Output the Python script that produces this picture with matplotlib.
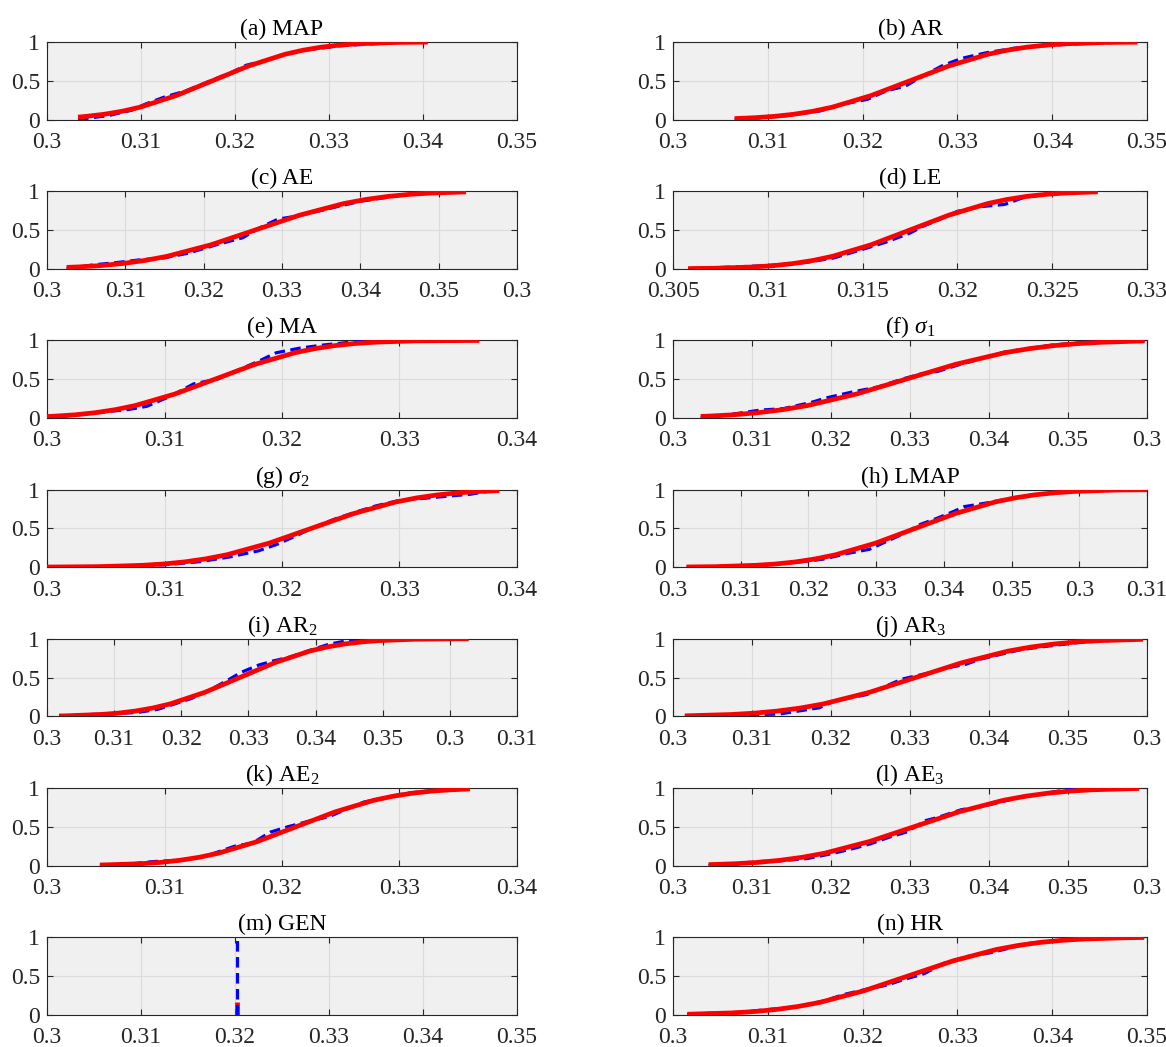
import matplotlib
matplotlib.use("Agg")
import matplotlib.pyplot as plt

plt.rcParams["font.family"] = ["Liberation Serif", "DejaVu Serif"]
plt.rcParams["mathtext.fontset"] = "custom"
plt.rcParams["mathtext.rm"] = "Liberation Serif"
plt.rcParams["mathtext.it"] = "Liberation Serif:italic"

map_emp_x = [0.3033, 0.3065, 0.309, 0.3105, 0.3125, 0.3148, 0.317, 0.3195, 0.3212, 0.3235, 0.3258, 0.3278, 0.331, 0.3365, 0.3405]
map_emp_y = [0.0, 0.05, 0.12, 0.2, 0.29, 0.37, 0.48, 0.6, 0.7, 0.77, 0.86, 0.9, 0.95, 0.99, 1.0]
map_fit_x = [0.3033, 0.30413, 0.30605, 0.30798, 0.3099, 0.31375, 0.3176, 0.32145, 0.3253, 0.32723, 0.32915, 0.33108, 0.333, 0.33685, 0.3405]
map_fit_y = [0.031, 0.040, 0.067, 0.106, 0.159, 0.309, 0.5, 0.691, 0.841, 0.894, 0.933, 0.960, 0.977, 0.994, 0.9985]

ar_emp_x = [0.3065, 0.309, 0.312, 0.3155, 0.318, 0.3205, 0.3225, 0.3245, 0.3262, 0.3285, 0.3305, 0.333, 0.336, 0.34, 0.345, 0.349]
ar_emp_y = [0.0, 0.02, 0.05, 0.11, 0.2, 0.26, 0.37, 0.43, 0.55, 0.7, 0.79, 0.86, 0.92, 0.96, 0.99, 1.0]
ar_fit_x = [0.3065, 0.3086, 0.31065, 0.3127, 0.31475, 0.3168, 0.3209, 0.325, 0.3291, 0.3332, 0.33525, 0.3373, 0.33935, 0.3414, 0.3455, 0.349]
ar_fit_y = [0.012, 0.023, 0.040, 0.067, 0.106, 0.159, 0.309, 0.5, 0.691, 0.841, 0.894, 0.933, 0.960, 0.977, 0.994, 0.998]

ae_emp_x = [0.3025, 0.306, 0.309, 0.3115, 0.315, 0.318, 0.322, 0.325, 0.327, 0.3295, 0.332, 0.3345, 0.337, 0.34, 0.346, 0.3515, 0.3535]
ae_emp_y = [0.0, 0.05, 0.08, 0.11, 0.14, 0.2, 0.32, 0.4, 0.52, 0.64, 0.68, 0.74, 0.8, 0.87, 0.96, 1.0, 1.0]
ae_fit_x = [0.3025, 0.304, 0.30683, 0.30965, 0.31248, 0.3153, 0.32095, 0.3266, 0.33225, 0.3379, 0.34073, 0.34355, 0.34638, 0.3492, 0.3535]
ae_fit_y = [0.017, 0.023, 0.040, 0.067, 0.106, 0.159, 0.309, 0.5, 0.691, 0.841, 0.894, 0.933, 0.960, 0.977, 0.991]

le_emp_x = [0.3058, 0.308, 0.31, 0.312, 0.3135, 0.315, 0.3162, 0.3175, 0.3182, 0.319, 0.32, 0.3212, 0.3225, 0.3235, 0.325, 0.3265, 0.3274]
le_emp_y = [0.0, 0.02, 0.04, 0.08, 0.14, 0.25, 0.34, 0.46, 0.55, 0.63, 0.74, 0.8, 0.83, 0.92, 0.97, 0.99, 1.0]
le_fit_x = [0.3058, 0.30725, 0.3093, 0.31033, 0.31135, 0.31238, 0.3134, 0.31545, 0.3175, 0.31955, 0.3216, 0.32263, 0.32365, 0.32468, 0.3257, 0.3274]
le_fit_y = [0.002, 0.006, 0.023, 0.040, 0.067, 0.106, 0.159, 0.309, 0.5, 0.691, 0.841, 0.894, 0.933, 0.960, 0.977, 0.992]

ma_emp_x = [0.3, 0.302, 0.3045, 0.307, 0.3085, 0.3105, 0.3125, 0.3145, 0.316, 0.318, 0.3195, 0.3215, 0.3235, 0.326, 0.33, 0.3368]
ma_emp_y = [0.0, 0.03, 0.07, 0.11, 0.15, 0.28, 0.44, 0.5, 0.6, 0.73, 0.84, 0.9, 0.94, 0.98, 0.99, 1.0]
ma_fit_x = [0.3, 0.3007, 0.3024, 0.3041, 0.3058, 0.3075, 0.3109, 0.3143, 0.3177, 0.3211, 0.3228, 0.3245, 0.3262, 0.3279, 0.3313, 0.3368]
ma_fit_y = [0.018, 0.023, 0.040, 0.067, 0.106, 0.159, 0.309, 0.5, 0.691, 0.841, 0.894, 0.933, 0.960, 0.977, 0.994, 0.9996]

s1_emp_x = [0.3035, 0.307, 0.311, 0.314, 0.3175, 0.3195, 0.3225, 0.326, 0.329, 0.3315, 0.3335, 0.336, 0.3385, 0.342, 0.348, 0.354, 0.3597]
s1_emp_y = [0.0, 0.04, 0.1, 0.12, 0.2, 0.26, 0.33, 0.4, 0.5, 0.57, 0.6, 0.68, 0.75, 0.85, 0.94, 0.99, 1.0]
s1_fit_x = [0.3035, 0.3045, 0.30763, 0.31075, 0.31388, 0.317, 0.32325, 0.3295, 0.33575, 0.342, 0.34513, 0.34825, 0.35138, 0.3545, 0.3597]
s1_fit_y = [0.019, 0.023, 0.040, 0.067, 0.106, 0.159, 0.309, 0.5, 0.691, 0.841, 0.894, 0.933, 0.960, 0.977, 0.993]

s2_emp_x = [0.3, 0.305, 0.31, 0.313, 0.3155, 0.318, 0.3195, 0.321, 0.3225, 0.3245, 0.3265, 0.328, 0.33, 0.333, 0.336, 0.3385]
s2_emp_y = [0.0, 0.01, 0.03, 0.07, 0.13, 0.21, 0.29, 0.39, 0.5, 0.62, 0.72, 0.79, 0.86, 0.9, 0.94, 1.0]
s2_fit_x = [0.3, 0.3045, 0.3081, 0.3099, 0.3117, 0.3135, 0.3153, 0.3189, 0.3225, 0.3261, 0.3297, 0.3315, 0.3333, 0.3351, 0.3369, 0.3385]
s2_fit_y = [0.001, 0.006, 0.023, 0.040, 0.067, 0.106, 0.159, 0.309, 0.5, 0.691, 0.841, 0.894, 0.933, 0.960, 0.977, 0.987]

lmap_emp_x = [0.302, 0.308, 0.314, 0.318, 0.322, 0.326, 0.329, 0.3315, 0.334, 0.3365, 0.339, 0.3415, 0.343, 0.3465, 0.3495, 0.353, 0.358, 0.365, 0.37]
lmap_emp_y = [0.0, 0.01, 0.03, 0.06, 0.1, 0.18, 0.23, 0.33, 0.43, 0.55, 0.63, 0.72, 0.78, 0.83, 0.88, 0.93, 0.97, 0.99, 1.0]
lmap_fit_x = [0.302, 0.3063, 0.3122, 0.31515, 0.3181, 0.32105, 0.324, 0.3299, 0.3358, 0.3417, 0.3476, 0.35055, 0.3535, 0.35645, 0.3594, 0.3653, 0.37]
lmap_fit_y = [0.002, 0.006, 0.023, 0.040, 0.067, 0.106, 0.159, 0.309, 0.5, 0.691, 0.841, 0.894, 0.933, 0.960, 0.977, 0.994, 0.998]

ar2_emp_x = [0.3018, 0.305, 0.309, 0.3135, 0.3165, 0.319, 0.3215, 0.3245, 0.327, 0.329, 0.3315, 0.3335, 0.336, 0.3395, 0.342, 0.345, 0.35, 0.3628]
ar2_emp_y = [0.0, 0.02, 0.03, 0.05, 0.09, 0.16, 0.23, 0.35, 0.47, 0.57, 0.66, 0.71, 0.76, 0.86, 0.93, 0.98, 0.99, 1.0]
ar2_fit_x = [0.3018, 0.3027, 0.3079, 0.3105, 0.3131, 0.3157, 0.3183, 0.3235, 0.3287, 0.3339, 0.3391, 0.3417, 0.3443, 0.3469, 0.3495, 0.3547, 0.3599, 0.3628]
ar2_fit_y = [0.005, 0.006, 0.023, 0.040, 0.067, 0.106, 0.159, 0.309, 0.5, 0.691, 0.841, 0.894, 0.933, 0.960, 0.977, 0.994, 0.999, 1.0]

ar3_emp_x = [0.3015, 0.306, 0.31, 0.3135, 0.316, 0.3185, 0.3205, 0.3225, 0.3245, 0.3265, 0.329, 0.332, 0.335, 0.337, 0.339, 0.3415, 0.344, 0.347, 0.352, 0.3595]
ar3_emp_y = [0.0, 0.01, 0.02, 0.03, 0.07, 0.11, 0.2, 0.24, 0.28, 0.37, 0.48, 0.55, 0.63, 0.67, 0.74, 0.8, 0.86, 0.9, 0.96, 1.0]
ar3_fit_x = [0.3015, 0.3073, 0.31023, 0.31315, 0.31608, 0.319, 0.32485, 0.3307, 0.33655, 0.3424, 0.34533, 0.34825, 0.35118, 0.3541, 0.3595]
ar3_fit_y = [0.006, 0.023, 0.040, 0.067, 0.106, 0.159, 0.309, 0.5, 0.691, 0.841, 0.894, 0.933, 0.960, 0.977, 0.993]

ae2_emp_x = [0.3045, 0.3065, 0.309, 0.3115, 0.3135, 0.316, 0.3175, 0.319, 0.3205, 0.3225, 0.324, 0.326, 0.327, 0.329, 0.3305, 0.333, 0.336]
ae2_emp_y = [0.0, 0.01, 0.05, 0.07, 0.12, 0.25, 0.29, 0.43, 0.5, 0.58, 0.63, 0.76, 0.82, 0.88, 0.93, 0.97, 1.0]
ae2_fit_x = [0.3045, 0.308, 0.30965, 0.3113, 0.31295, 0.3146, 0.3179, 0.3212, 0.3245, 0.3278, 0.32945, 0.3311, 0.33275, 0.3344, 0.336]
ae2_fit_y = [0.006, 0.023, 0.040, 0.067, 0.106, 0.159, 0.309, 0.5, 0.691, 0.841, 0.894, 0.933, 0.960, 0.977, 0.988]

ae3_emp_x = [0.3045, 0.307, 0.3105, 0.3135, 0.317, 0.3195, 0.3225, 0.325, 0.3275, 0.3295, 0.332, 0.3335, 0.3365, 0.339, 0.3415, 0.3435, 0.347, 0.35, 0.355, 0.359]
ae3_emp_y = [0.0, 0.01, 0.05, 0.06, 0.09, 0.14, 0.21, 0.28, 0.37, 0.43, 0.58, 0.62, 0.72, 0.76, 0.82, 0.87, 0.93, 0.98, 1.0, 1.0]
ae3_fit_x = [0.3045, 0.3079, 0.31073, 0.31355, 0.31638, 0.3192, 0.32485, 0.3305, 0.33615, 0.3418, 0.34463, 0.34745, 0.35028, 0.3531, 0.359]
ae3_fit_y = [0.011, 0.023, 0.040, 0.067, 0.106, 0.159, 0.309, 0.5, 0.691, 0.841, 0.894, 0.933, 0.960, 0.977, 0.994]

gen_emp_x = [0.3202, 0.3202]
gen_emp_y = [0.0, 1.0]
gen_fit_x = [0.3202, 0.3202]
gen_fit_y = [0.0, 0.17]

hr_emp_x = [0.3015, 0.304, 0.307, 0.3095, 0.313, 0.316, 0.318, 0.3205, 0.3225, 0.3245, 0.3265, 0.3285, 0.331, 0.3335, 0.3355, 0.3375, 0.34, 0.344, 0.3497]
hr_emp_y = [0.0, 0.02, 0.03, 0.06, 0.1, 0.18, 0.26, 0.33, 0.38, 0.46, 0.53, 0.66, 0.75, 0.8, 0.86, 0.92, 0.95, 0.98, 1.0]
hr_fit_x = [0.3015, 0.3062, 0.30853, 0.31085, 0.31318, 0.3155, 0.32015, 0.3248, 0.32945, 0.3341, 0.33643, 0.33875, 0.34108, 0.3434, 0.34805, 0.3497]
hr_fit_y = [0.006, 0.023, 0.040, 0.067, 0.106, 0.159, 0.309, 0.5, 0.691, 0.841, 0.894, 0.933, 0.960, 0.977, 0.994, 0.996]

# tick sets (labels as printed in the figure)
ticks_35 = [0.30, 0.31, 0.32, 0.33, 0.34, 0.35]
labels_35 = ["0.3", "0.31", "0.32", "0.33", "0.34", "0.35"]
ticks_36 = [0.30, 0.31, 0.32, 0.33, 0.34, 0.35, 0.36]
labels_36 = ["0.3", "0.31", "0.32", "0.33", "0.34", "0.35", "0.3"]
ticks_37 = [0.30, 0.31, 0.32, 0.33, 0.34, 0.35, 0.36, 0.37]
labels_37 = ["0.3", "0.31", "0.32", "0.33", "0.34", "0.35", "0.3", "0.31"]
ticks_34 = [0.30, 0.31, 0.32, 0.33, 0.34]
labels_34 = ["0.3", "0.31", "0.32", "0.33", "0.34"]
ticks_le = [0.305, 0.31, 0.315, 0.32, 0.325, 0.33]
labels_le = ["0.305", "0.31", "0.315", "0.32", "0.325", "0.33"]

panels = [
    ("(a) MAP", map_emp_x, map_emp_y, map_fit_x, map_fit_y, ticks_35, labels_35),
    ("(b) AR", ar_emp_x, ar_emp_y, ar_fit_x, ar_fit_y, ticks_35, labels_35),
    ("(c) AE", ae_emp_x, ae_emp_y, ae_fit_x, ae_fit_y, ticks_36, labels_36),
    ("(d) LE", le_emp_x, le_emp_y, le_fit_x, le_fit_y, ticks_le, labels_le),
    ("(e) MA", ma_emp_x, ma_emp_y, ma_fit_x, ma_fit_y, ticks_34, labels_34),
    (r"(f) $\sigma_1$", s1_emp_x, s1_emp_y, s1_fit_x, s1_fit_y, ticks_36, labels_36),
    (r"(g) $\sigma_2$", s2_emp_x, s2_emp_y, s2_fit_x, s2_fit_y, ticks_34, labels_34),
    ("(h) LMAP", lmap_emp_x, lmap_emp_y, lmap_fit_x, lmap_fit_y, ticks_37, labels_37),
    (r"(i) AR$_2$", ar2_emp_x, ar2_emp_y, ar2_fit_x, ar2_fit_y, ticks_37, labels_37),
    (r"(j) AR$_3$", ar3_emp_x, ar3_emp_y, ar3_fit_x, ar3_fit_y, ticks_36, labels_36),
    (r"(k) AE$_2$", ae2_emp_x, ae2_emp_y, ae2_fit_x, ae2_fit_y, ticks_34, labels_34),
    (r"(l) AE$_3$", ae3_emp_x, ae3_emp_y, ae3_fit_x, ae3_fit_y, ticks_36, labels_36),
    ("(m) GEN", gen_emp_x, gen_emp_y, gen_fit_x, gen_fit_y, ticks_35, labels_35),
    ("(n) HR", hr_emp_x, hr_emp_y, hr_fit_x, hr_fit_y, ticks_35, labels_35),
]

W, H = 1166, 1047
fig = plt.figure(figsize=(W / 100, H / 100), dpi=100)

col_left = [47, 673]
col_width = [470, 474]
row_top0, row_step, ax_h = 42, 149.2, 77.5

for i, (title, ex, ey, fx, fy, ticks, labels) in enumerate(panels):
    r, c = divmod(i, 2)
    top = row_top0 + r * row_step
    ax = fig.add_axes([col_left[c] / W, 1 - (top + ax_h) / H,
                       col_width[c] / W, ax_h / H])
    ax.set_facecolor((0.94, 0.94, 0.94))
    ax.grid(True, color=(0.86, 0.86, 0.86), linewidth=0.8)
    ax.set_axisbelow(True)

    # GEN: red fit sits underneath the blue dashed line
    fit_z = 2 if title == "(m) GEN" else 4
    ax.plot(ex, ey, color="blue", linestyle="--", linewidth=2.3,
            dashes=(3.3, 1.7), zorder=3)
    ax.plot(fx, fy, color="red", linewidth=3.4, solid_capstyle="butt",
            solid_joinstyle="round", zorder=fit_z)

    ax.set_xlim(ticks[0], ticks[-1])
    ax.set_ylim(0, 1)
    ax.set_xticks(ticks)
    ax.set_xticklabels(labels)
    ax.set_yticks([0, 0.5, 1])
    ax.set_yticklabels(["0", "0.5", "1"])
    ax.tick_params(direction="in", length=4, width=0.8, colors=(0.15, 0.15, 0.15),
                   labelsize=17, top=True, right=True)
    ax.tick_params(axis="x", pad=9)
    ax.tick_params(axis="y", pad=5)
    for lab in ax.get_xticklabels() + ax.get_yticklabels():
        lab.set_color((0.15, 0.15, 0.15))
    for sp in ax.spines.values():
        sp.set_color((0.15, 0.15, 0.15))
        sp.set_linewidth(0.8)
    ax.set_title(title, fontsize=17, pad=5, color="black")

fig.savefig("out.png", dpi=100)
